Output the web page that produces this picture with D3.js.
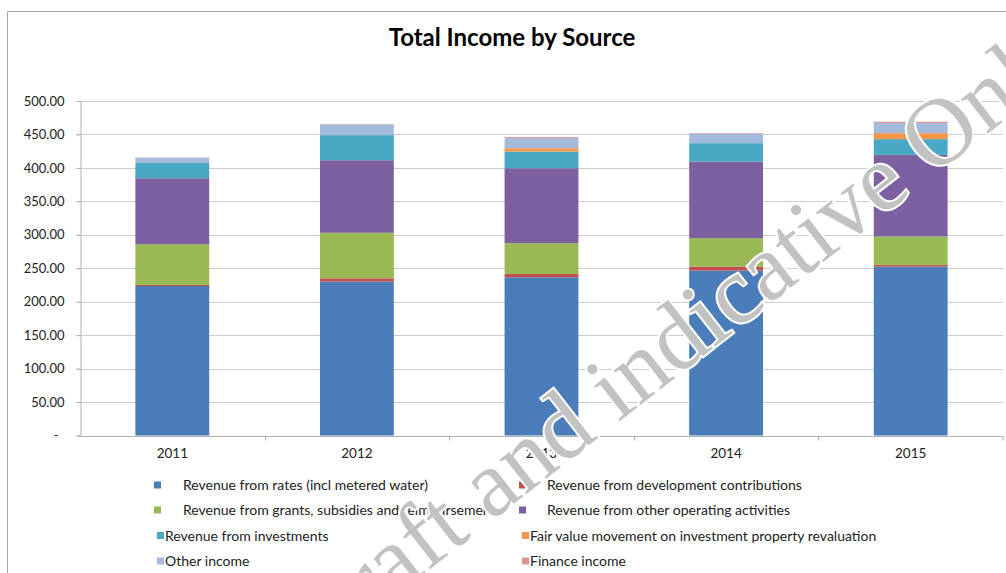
<!DOCTYPE html>
<html>
<head>
<meta charset="utf-8">
<script src="https://cdn.jsdelivr.net/npm/d3@7"></script>
<style>
  html, body { margin: 0; padding: 0; background: #fff; }
  svg { display: block; }
  text { font-family: Lato, "Open Sans", sans-serif; fill: #222; }
</style>
</head>
<body>
<svg id="chart" width="1006" height="573"></svg>
<script>
// Income by source, in $ millions, per financial year
const years = ["2011", "2012", "2013", "2014", "2015"];
const ratesRevenue        = [223.5, 230.0, 236.5, 246.5, 252.5];
const devContributions    = [1.5, 5.0, 5.0, 6.0, 2.5];
const grantsSubsidies     = [61.0, 68.0, 46.0, 42.5, 42.5];
const otherOperating      = [98.5, 108.5, 112.0, 114.5, 122.0];
const investmentRevenue   = [23.0, 37.5, 25.0, 27.5, 23.5];
const fairValueMovement   = [0.0, 0.0, 5.0, 0.0, 9.0];
const otherIncome         = [7.5, 16.0, 15.0, 14.0, 15.0];
const financeIncome       = [0.5, 0.5, 1.5, 1.0, 2.0];
const yTicks = [0, 50, 100, 150, 200, 250, 300, 350, 400, 450, 500];

const seriesNames = [
  "Revenue from rates (incl metered water)",
  "Revenue from development contributions",
  "Revenue from grants, subsidies and reimbursements",
  "Revenue from other operating activities",
  "Revenue from investments",
  "Fair value movement on investment property revaluation",
  "Other income",
  "Finance income"
];
const seriesValues = [ratesRevenue, devContributions, grantsSubsidies, otherOperating,
                      investmentRevenue, fairValueMovement, otherIncome, financeIncome];
const seriesColors = ["#4A7DBA", "#C0504D", "#98B954", "#7D60A0",
                      "#49A9C4", "#F79646", "#A3BADD", "#D99694"];

const rows = years.map((y, i) => {
  const r = { year: y };
  seriesNames.forEach((n, k) => { r[n] = seriesValues[k][i]; });
  return r;
});

const svg = d3.select("#chart");

// chart frame
svg.append("path")
  .attr("d", "M7.5,573 V11.5 H1006")
  .attr("fill", "none").attr("stroke", "#A6A6A6").attr("stroke-width", 1);

const plot = { left: 80, right: 1003, top: 101, bottom: 435.5 };

const x = d3.scaleBand().domain(years)
  .range([plot.left, plot.right]).paddingInner(0.6).paddingOuter(0.3);
const xCat = d3.scaleBand().domain(years).range([plot.left, plot.right]);
const y = d3.scaleLinear().domain([0, 500]).range([plot.bottom, plot.top]);

// title
svg.append("text")
  .attr("x", 512).attr("y", 46)
  .attr("text-anchor", "middle")
  .style("font-weight", "bold").style("font-size", "24px").style("fill", "#000")
  .text("Total Income by Source");

// gridlines
svg.append("g").selectAll("line").data(yTicks.slice(1)).join("line")
  .attr("x1", plot.left - 4).attr("x2", plot.right)
  .attr("y1", d => Math.round(y(d)) + 0.5).attr("y2", d => Math.round(y(d)) + 0.5)
  .attr("stroke", "#CDCDCD").attr("stroke-width", 1);

// y axis
const yAxis = d3.axisLeft(y).tickValues(yTicks).tickSize(4).tickPadding(12)
  .tickFormat(d => d === 0 ? "-" : d3.format(".2f")(d));
const gy = svg.append("g").attr("transform", `translate(${plot.left + 0.5},0)`).call(yAxis);
gy.select(".domain").attr("stroke", "#B0B0B0");
gy.selectAll(".tick line").attr("stroke", "#B0B0B0");
gy.selectAll(".tick text").style("font-size", "13px").style("font-family", "Lato")
  .attr("fill", "#333")
  .attr("dx", d => d === 0 ? -6 : 0);

// stacked bars
const stack = d3.stack().keys(seriesNames)(rows);
svg.append("g").selectAll("g").data(stack).join("g")
  .attr("fill", (d, i) => seriesColors[i])
  .selectAll("rect").data(d => d).join("rect")
  .attr("x", d => x(d.data.year))
  .attr("width", x.bandwidth())
  .attr("y", d => y(d[1]))
  .attr("height", d => Math.max(0, y(d[0]) - y(d[1])));

// x axis
const xAxis = d3.axisBottom(xCat).tickSize(0).tickPadding(12);
const gx = svg.append("g").attr("transform", `translate(0,${plot.bottom + 0.5})`).call(xAxis);
gx.select(".domain").attr("stroke", "#B0B0B0");
gx.selectAll(".tick text").style("font-size", "13.5px").style("font-family", "Lato").attr("fill", "#333");
svg.append("g").selectAll("line").data(years.slice(1).concat(["end"])).join("line")
  .attr("x1", d => d === "end" ? plot.right : Math.round(xCat(d)) + 0.5)
  .attr("x2", d => d === "end" ? plot.right : Math.round(xCat(d)) + 0.5)
  .attr("y1", plot.bottom).attr("y2", plot.bottom + 5)
  .attr("stroke", "#B0B0B0");

// legend: two columns, four rows
const legendRows = [485, 510, 535.5, 561];
const legendItems = seriesNames.map((n, i) => {
  const col = i % 2, row = Math.floor(i / 2);
  const wide = row < 2;
  return {
    name: n, color: seriesColors[i],
    mx: col === 0 ? (wide ? 154 : 157) : (wide ? 519 : 522),
    tx: col === 0 ? (wide ? 183 : 165) : (wide ? 547 : 530),
    cy: legendRows[row]
  };
});
const lg = svg.append("g").selectAll("g").data(legendItems).join("g");
lg.append("rect")
  .attr("x", d => d.mx).attr("y", d => d.cy - 3.5)
  .attr("width", 7).attr("height", 7)
  .attr("fill", d => d.color);
lg.append("text")
  .attr("x", d => d.tx).attr("y", d => d.cy + 5)
  .style("font-size", "14px").attr("fill", "#333")
  .text(d => d.name);

// watermark across the chart
svg.append("text")
  .attr("transform", "translate(314.5,659.5) rotate(-38)")
  .style("font-family", "'Liberation Serif', serif")
  .style("font-size", "95px")
  .style("fill", "#C2C2C2")
  .attr("stroke", "#fff").attr("stroke-width", 4)
  .attr("paint-order", "stroke")
  .text("Draft and indicative Only");
</script>
</body>
</html>
